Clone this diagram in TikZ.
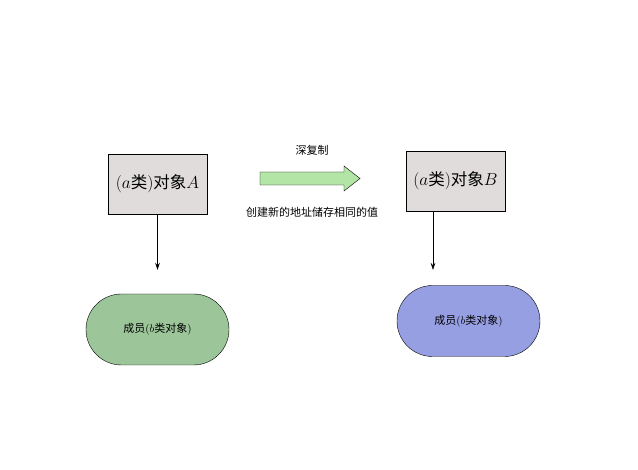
\documentclass[tikz,border=0pt]{standalone}
\usepackage{fontspec}
\newfontfamily\cjk{Noto Sans CJK SC}
\usetikzlibrary{shapes.misc,arrows.meta}
\definecolor{boxfill}{HTML}{E0DCDC}
\definecolor{memberA}{HTML}{9CC59A}
\definecolor{memberB}{HTML}{979FE3}
\definecolor{copyfill}{HTML}{B3E6A6}
\tikzset{
  objbox/.style={draw, fill=boxfill, minimum width=99pt, minimum height=60pt, inner sep=0pt, font=\fontsize{16.5}{18}\selectfont},
  member/.style={draw, rounded rectangle, minimum width=143pt, minimum height=71pt, inner sep=0pt, font=\fontsize{11}{13}\selectfont},
  link/.style={-{Stealth[length=7pt,width=4.5pt]}, semithick},
  caption/.style={font=\cjk\fontsize{11}{13}\selectfont}
}
\begin{document}
\begin{tikzpicture}[x=1pt,y=-1pt]
\useasboundingbox (0,0) rectangle (638,470);
\node[objbox] (objA) at (157.5,184) {$(a$\cjk 类\normalfont$)$\cjk 对象\normalfont$A$};
\node[objbox] (objB) at (455.5,181) {$(a$\cjk 类\normalfont$)$\cjk 对象\normalfont$B$};
\node[member, fill=memberA] (memA) at (157.5,329.5) {\cjk 成员\normalfont$(b$\cjk 类对象\normalfont$)$};
\node[member, fill=memberB] (memB) at (468.5,321) {\cjk 成员\normalfont$(b$\cjk 类对象\normalfont$)$};
\coordinate (tipA) at (157.5,270);
\coordinate (tipB) at (433,270);
\coordinate (startB) at (433,211);
\draw[link] (objA.south) -- (tipA);
\draw[link] (startB) -- (tipB);
% block arrow for the deep copy
\draw[fill=copyfill] (260,172) -- (344,172) -- (344,166) -- (360,178.5)
  -- (344,191) -- (344,185) -- (260,185) -- cycle;
\node[caption] (deep) at (312,150) {深复制};
\node[caption] (note) at (312,212) {创建新的地址储存相同的值};
\end{tikzpicture}
\end{document}
